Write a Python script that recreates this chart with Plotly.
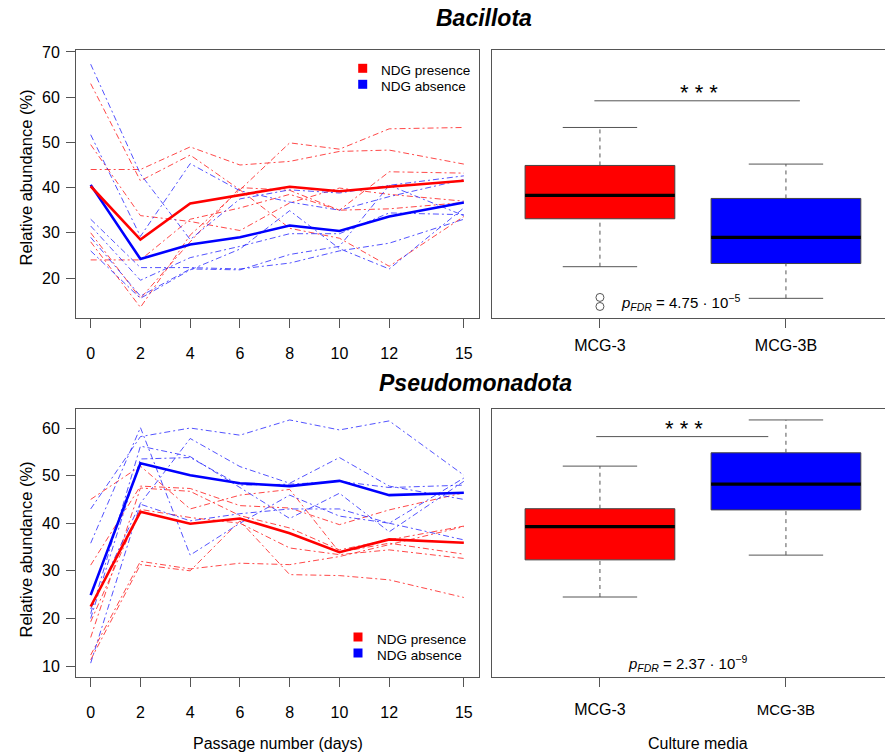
import plotly.graph_objects as go

# ---------------- data ----------------
days = [0, 2, 4, 6, 8, 10, 12, 15]
day_labels = ["0", "2", "4", "6", "8", "10", "12", "15"]

# Bacillota, individual replicate series (NDG presence = MCG-3, NDG absence = MCG-3B)
bac_pres_1 = [63.0, 41.5, 47.2, 39.5, 31.0, 28.8, 22.6, 33.6]
bac_pres_2 = [44.0, 44.0, 49.0, 45.0, 45.8, 48.0, 48.3, 45.2]
bac_pres_3 = [28.0, 13.5, 29.5, 39.5, 49.9, 48.5, 53.0, 53.3]
bac_pres_4 = [49.5, 33.8, 32.5, 30.5, 36.6, 39.9, 38.5, 37.0]
bac_pres_5 = [24.0, 24.0, 33.0, 35.5, 38.5, 35.0, 43.5, 43.2]
bac_pres_6 = [30.0, 15.5, 28.0, 40.0, 39.4, 35.0, 35.3, 36.7]
bac_abs_1 = [67.3, 43.0, 28.5, 37.5, 39.5, 38.8, 40.5, 42.6]
bac_abs_2 = [51.7, 29.2, 45.3, 39.3, 36.8, 35.0, 38.0, 41.8]
bac_abs_3 = [33.0, 22.3, 22.3, 22.0, 23.3, 26.0, 27.7, 33.0]
bac_abs_4 = [31.5, 19.5, 24.5, 27.0, 29.8, 29.8, 34.4, 34.0]
bac_abs_5 = [29.0, 16.0, 22.0, 21.8, 25.2, 27.0, 40.5, 33.8]
bac_abs_6 = [26.0, 15.5, 21.8, 26.4, 34.9, 26.5, 22.0, 35.5]
bac_pres_mean = [40.3, 28.5, 36.5, 38.4, 40.2, 39.2, 40.2, 41.5]
bac_abs_mean = [40.6, 24.2, 27.4, 29.0, 31.6, 30.4, 33.6, 36.7]

# Pseudomonadota
pse_pres_1 = [45.0, 52.0, 43.0, 45.9, 47.1, 33.9, 35.8, 33.5]
pse_pres_2 = [31.2, 47.8, 47.3, 43.7, 43.2, 39.7, 42.8, 46.4]
pse_pres_3 = [16.0, 47.4, 46.7, 41.6, 39.0, 34.4, 36.5, 39.4]
pse_pres_4 = [19.3, 42.9, 41.2, 40.0, 34.8, 33.4, 34.4, 32.6]
pse_pres_5 = [12.3, 32.0, 30.4, 31.6, 31.3, 33.0, 35.5, 39.3]
pse_pres_6 = [11.3, 31.3, 30.0, 40.5, 29.2, 29.0, 28.1, 24.4]
pse_abs_1 = [43.0, 58.2, 60.0, 58.5, 61.7, 59.6, 61.5, 50.1]
pse_abs_2 = [35.8, 60.1, 33.3, 40.0, 45.9, 41.5, 40.0, 49.5]
pse_abs_3 = [22.0, 44.2, 57.8, 51.9, 48.4, 53.8, 47.8, 45.0]
pse_abs_4 = [21.0, 56.2, 54.0, 47.5, 41.0, 46.3, 38.2, 48.8]
pse_abs_5 = [20.0, 53.5, 53.8, 48.0, 48.2, 48.8, 47.5, 48.0]
pse_abs_6 = [10.6, 44.0, 40.5, 42.0, 43.0, 43.0, 40.0, 36.5]
pse_pres_mean = [22.5, 42.4, 39.9, 41.0, 37.9, 33.9, 36.6, 35.9]
pse_abs_mean = [24.9, 52.6, 50.1, 48.4, 47.8, 48.9, 45.9, 46.4]

# Boxplot statistics: [lower whisker, Q1, median, Q3, upper whisker]
media = ["MCG-3", "MCG-3B"]
media_pos = [1, 2]
bac_mcg3_stats = [22.5, 33.1, 38.3, 44.9, 53.3]
bac_mcg3b_stats = [15.5, 23.2, 29.0, 37.6, 45.2]
bac_mcg3_outliers = [15.7, 13.7]
pse_mcg3_stats = [24.5, 32.3, 39.3, 43.05, 52.0]
pse_mcg3b_stats = [33.3, 42.8, 48.2, 54.8, 61.7]

legend_names = ["NDG presence", "NDG absence"]
bac_p_text = "<i>p</i><sub><i>FDR</i></sub> = 4.75 · 10<sup>−5</sup>"
pse_p_text = "<i>p</i><sub><i>FDR</i></sub> = 2.37 · 10<sup>−9</sup>"
sig_text = "* * *"

# ---------------- styling ----------------
W, H = 885, 755
RED = "#FF0000"
BLUE = "#0000FF"
FRAME = "#555555"
FONT = "Liberation Sans, Arial, Helvetica, sans-serif"
DASH = "6px,3px,2px,3px"


def px_x(p):
    return p / W


def px_y(p):
    return 1 - p / H


fig = go.Figure()

panels = [
    ("x", "y", [bac_pres_1, bac_pres_2, bac_pres_3, bac_pres_4, bac_pres_5, bac_pres_6],
     [bac_abs_1, bac_abs_2, bac_abs_3, bac_abs_4, bac_abs_5, bac_abs_6], bac_pres_mean, bac_abs_mean),
    ("x3", "y3", [pse_pres_1, pse_pres_2, pse_pres_3, pse_pres_4, pse_pres_5, pse_pres_6],
     [pse_abs_1, pse_abs_2, pse_abs_3, pse_abs_4, pse_abs_5, pse_abs_6], pse_pres_mean, pse_abs_mean),
]

for xa, ya, pres, absn, pmean, amean in panels:
    for s in pres:
        fig.add_trace(go.Scatter(x=days, y=s, xaxis=xa, yaxis=ya, mode="lines",
                                 line=dict(color="rgba(255,40,40,0.85)", width=1, dash=DASH),
                                 showlegend=False, hoverinfo="skip"))
    for s in absn:
        fig.add_trace(go.Scatter(x=days, y=s, xaxis=xa, yaxis=ya, mode="lines",
                                 line=dict(color="rgba(40,40,255,0.8)", width=1, dash=DASH),
                                 showlegend=False, hoverinfo="skip"))
    fig.add_trace(go.Scatter(x=days, y=amean, xaxis=xa, yaxis=ya, mode="lines",
                             line=dict(color=BLUE, width=2.6), showlegend=False))
    fig.add_trace(go.Scatter(x=days, y=pmean, xaxis=xa, yaxis=ya, mode="lines",
                             line=dict(color=RED, width=2.6), showlegend=False))

BOX_HALF = 0.4025
CAP_HALF = 0.2


def add_box(xpos, stats, color, xa, ya):
    lo, q1, med, q3, hi = stats
    fig.add_trace(go.Scatter(x=[xpos - BOX_HALF, xpos + BOX_HALF, xpos + BOX_HALF, xpos - BOX_HALF, xpos - BOX_HALF],
                             y=[q1, q1, q3, q3, q1], xaxis=xa, yaxis=ya, mode="lines", fill="toself",
                             fillcolor=color, line=dict(color="#444444", width=1), showlegend=False,
                             hoverinfo="skip"))
    fig.add_trace(go.Scatter(x=[xpos - BOX_HALF, xpos + BOX_HALF], y=[med, med], xaxis=xa, yaxis=ya,
                             mode="lines", line=dict(color="black", width=3.2), showlegend=False))
    for a, b in [(q3, hi), (lo, q1)]:
        fig.add_trace(go.Scatter(x=[xpos, xpos], y=[a, b], xaxis=xa, yaxis=ya, mode="lines",
                                 line=dict(color="#555555", width=1, dash="4px,4px"), showlegend=False,
                                 hoverinfo="skip"))
    for v in [lo, hi]:
        fig.add_trace(go.Scatter(x=[xpos - CAP_HALF, xpos + CAP_HALF], y=[v, v], xaxis=xa, yaxis=ya,
                                 mode="lines", line=dict(color="#555555", width=1), showlegend=False,
                                 hoverinfo="skip"))


add_box(media_pos[0], bac_mcg3_stats, RED, "x2", "y2")
add_box(media_pos[1], bac_mcg3b_stats, BLUE, "x2", "y2")
fig.add_trace(go.Scatter(x=[media_pos[0]] * len(bac_mcg3_outliers), y=bac_mcg3_outliers, xaxis="x2", yaxis="y2",
                         mode="markers", marker=dict(symbol="circle-open", size=8, color="#555555",
                                                     line=dict(width=1)), showlegend=False))
add_box(media_pos[0], pse_mcg3_stats, RED, "x4", "y4")
add_box(media_pos[1], pse_mcg3b_stats, BLUE, "x4", "y4")

# significance bars
bac_sig_x = [0.97, 2.075]
bac_sig_y = 59.2
pse_sig_x = [0.98, 1.905]
pse_sig_y = 58.2
fig.add_trace(go.Scatter(x=bac_sig_x, y=[bac_sig_y] * 2, xaxis="x2", yaxis="y2", mode="lines",
                         line=dict(color="#555555", width=1), showlegend=False))
fig.add_trace(go.Scatter(x=pse_sig_x, y=[pse_sig_y] * 2, xaxis="x4", yaxis="y4", mode="lines",
                         line=dict(color="#555555", width=1), showlegend=False))

# ---------------- layout ----------------
TOP_Y = [px_y(318), px_y(50)]
BOT_Y = [px_y(677), px_y(409)]
LEFT_X = [px_x(76), px_x(479)]
RIGHT_X = [px_x(491.7), 1.0]
BAC_RANGE = [11.15, 70.44]
PSE_RANGE = [7.69, 64.0]
LINE_RANGE_X = [-0.59, 15.61]
BOX_RANGE_X = [0.418, 0.418 + 393.3 / 186]

common = dict(showgrid=False, zeroline=False, showline=True, linecolor=FRAME, linewidth=1,
              tickcolor=FRAME, ticklen=9, tickwidth=1, ticks="outside", automargin=False,
              tickfont=dict(family=FONT, size=16, color="black"))
nolab = {k: v for k, v in common.items() if k != "ticks"}

fig.update_layout(
    width=W, height=H, autosize=False, showlegend=False,
    margin=dict(l=0, r=0, t=0, b=0, pad=0, autoexpand=False),
    paper_bgcolor="white", plot_bgcolor="white",
    font=dict(family=FONT, color="black"),
    xaxis=dict(domain=LEFT_X, range=LINE_RANGE_X, tickvals=days, ticktext=day_labels, anchor="y",
               mirror=True, ticklabelstandoff=12, **common),
    yaxis=dict(domain=TOP_Y, range=BAC_RANGE, tickvals=[20, 30, 40, 50, 60, 70], anchor="x",
               mirror=True, ticklabelstandoff=3, **common),
    xaxis2=dict(domain=RIGHT_X, range=BOX_RANGE_X, tickvals=media_pos, ticktext=media, anchor="y2",
                mirror=True, ticklabelstandoff=4, **common),
    yaxis2=dict(domain=TOP_Y, range=BAC_RANGE, anchor="x2", showticklabels=False, ticks="", **nolab),
    xaxis3=dict(domain=LEFT_X, range=LINE_RANGE_X, tickvals=days, ticktext=day_labels, anchor="y3",
                mirror=True, ticklabelstandoff=12, **common),
    yaxis3=dict(domain=BOT_Y, range=PSE_RANGE, tickvals=[10, 20, 30, 40, 50, 60], anchor="x3",
                mirror=True, ticklabelstandoff=3, **common),
    xaxis4=dict(domain=RIGHT_X, range=BOX_RANGE_X, tickvals=media_pos,
                ticktext=[media[0], "<span style='font-size:15px'>" + media[1] + "</span>"], anchor="y4",
                mirror=True, ticklabelstandoff=9, **common),
    yaxis4=dict(domain=BOT_Y, range=PSE_RANGE, anchor="x4", showticklabels=False, ticks="", **nolab),
)

TITLE_FONT = dict(family=FONT, size=23, color="black")
ann = []
shapes = []


def paper_text(text, x, y, font, angle=0, xanchor="center"):
    ann.append(dict(text=text, x=px_x(x), y=px_y(y), xref="paper", yref="paper", showarrow=False,
                    xanchor=xanchor, yanchor="middle", textangle=angle, font=font))


paper_text("<b><i>Bacillota</i></b>", 484, 18, TITLE_FONT)
paper_text("<b><i>Pseudomonadota</i></b>", 475, 383, TITLE_FONT)
for cy in [178, 550]:
    paper_text("Relative abundance (%)", 25.5, cy, dict(family=FONT, size=16.5, color="black"), -90)
paper_text("Passage number (days)", 277.5, 743, dict(family=FONT, size=16, color="black"))
paper_text("Culture media", 697.5, 743, dict(family=FONT, size=16, color="black"))

# legends (key squares + labels), positioned in page pixels
LEG_FONT = dict(family=FONT, size=13.5, color="black")
for (sq_x, txt_x, y0) in [(362.7, 379, 68.3), (358, 375, 637)]:
    for i, (name, col) in enumerate(zip(legend_names, [RED, BLUE])):
        cy = y0 + i * 16
        shapes.append(dict(type="rect", xref="paper", yref="paper",
                           x0=px_x(sq_x - 4.5), x1=px_x(sq_x + 4.5), y0=px_y(cy + 4.5), y1=px_y(cy - 4.5),
                           fillcolor=col, line=dict(width=0)))
        paper_text(name, txt_x, cy + 2, LEG_FONT, xanchor="left")

ann.append(dict(text=sig_text, x=1.53, y=61.0, xref="x2", yref="y2", showarrow=False,
                xanchor="center", yanchor="middle", font=dict(family=FONT, size=22, color="black")))
ann.append(dict(text=sig_text, x=1.45, y=60.0, xref="x4", yref="y4", showarrow=False,
                xanchor="center", yanchor="middle", font=dict(family=FONT, size=22, color="black")))
ann.append(dict(text=bac_p_text, x=1.435, y=14.5, xref="x2", yref="y2", showarrow=False,
                xanchor="center", yanchor="middle", font=dict(family=FONT, size=15, color="black")))
ann.append(dict(text=pse_p_text, x=1.47, y=10.6, xref="x4", yref="y4", showarrow=False,
                xanchor="center", yanchor="middle", font=dict(family=FONT, size=15, color="black")))
fig.update_layout(annotations=ann, shapes=shapes)

fig.write_html("out.html", config={"displayModeBar": False},
               post_script="document.body.style.margin='0';document.body.style.padding='0';")
